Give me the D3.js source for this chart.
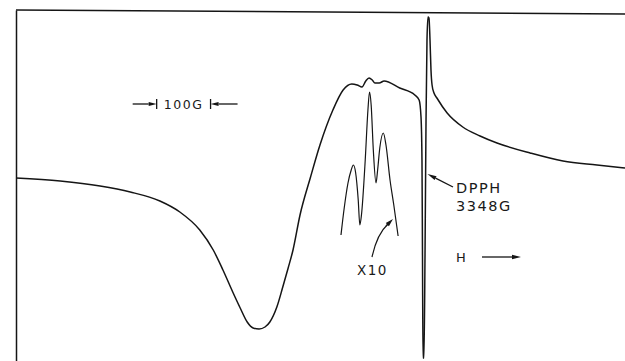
<!DOCTYPE html>
<html>
<head>
<meta charset="utf-8">
<script src="https://cdn.jsdelivr.net/npm/d3@7"></script>
<style>
  body { margin: 0; background: #fff; }
  svg { display: block; }
  text { font-family: "DejaVu Sans", sans-serif; fill: #1a1a1a; letter-spacing: 1.5px; }
</style>
</head>
<body>
<svg></svg>
<script>
const W = 625,
  H = 361;

// field in gauss, signal in arbitrary units (derivative of absorption)
const field = [
  2590, 2672, 2746, 2802, 2857, 2894, 2931, 2956, 2974, 2993, 3006, 3019, 3030,
  3041, 3052, 3061, 3074, 3085, 3095, 3104, 3117, 3136, 3154, 3178, 3197, 3213,
  3223, 3232, 3239, 3245, 3251, 3256, 3264, 3273, 3302, 3330, 3338, 3341.5,
  3343.3, 3344.2, 3345.2, 3347, 3349, 3350.8, 3352.6, 3354.5, 3356.3, 3358.2,
  3360, 3362, 3365.6, 3371, 3390, 3419, 3451, 3482.5, 3544, 3605, 3668, 3720
];
const signal = [
  7, 4, -1, -7, -16, -27, -45, -65, -85, -108, -123, -137, -143,
  -144, -142, -137, -122, -102, -83, -65, -30, 7, 40, 75, 95, 101,
  100, 98, 104, 107, 105, 102, 102, 104, 97, 90, 85, 68,
  25, -65, -173, -173, -65, 65, 145, 168, 167, 145,
  115, 100, 92, 87, 72, 58, 49, 42, 32, 24, 20, 17
];

// hyperfine detail recorded at x10 gain
const insetField = [
  3193, 3199, 3206, 3212, 3216, 3220, 3225, 3228, 3231, 3238, 3243, 3246,
  3249, 3253, 3258, 3261, 3265, 3271.5, 3276.5, 3284, 3291, 3299
];
const insetSignal = [
  -50, -23, 2, 15, 20, 13, -15, -40, -30, 25, 75, 93,
  80, 35, 2, 15, 37, 52, 40, 5, -20, -51
];

const scaleBar = [2851, 2951]; // 100 G
const dpph = 3348;

var svg = d3.select("svg").attr("width", W).attr("height", H);

var x = d3.scaleLinear().domain([2590, 3720]).range([16, 625]);
var y = d3.scaleLinear().domain([-175, 175]).range([360, 10]);

const ink = "#151515";

// frame: left edge and top edge
svg
  .append("g")
  .attr("transform", "translate(16,0)")
  .call(d3.axisLeft(d3.scaleLinear().range([10, H])).tickValues([]).tickSizeOuter(0))
  .select(".domain")
  .attr("stroke", ink)
  .attr("stroke-width", 1.5);

svg
  .append("line")
  .attr("x1", 16)
  .attr("y1", 10)
  .attr("x2", W)
  .attr("y2", 14)
  .attr("stroke", ink)
  .attr("stroke-width", 1.5);

var line = d3
  .line()
  .x(d => x(d[0]))
  .y(d => y(d[1]))
  .curve(d3.curveMonotoneX);

svg
  .append("path")
  .datum(field.map((f, i) => [f, signal[i]]))
  .attr("d", line)
  .attr("fill", "none")
  .attr("stroke", ink)
  .attr("stroke-width", 1.5);

svg
  .append("path")
  .datum(insetField.map((f, i) => [f, insetSignal[i]]))
  .attr("d", line)
  .attr("fill", "none")
  .attr("stroke", ink)
  .attr("stroke-width", 1.2);

//arrow helper: line from (x1,y1) to tip (x2,y2)
function arrow(x1, y1, x2, y2, len, wid) {
  const a = Math.atan2(y2 - y1, x2 - x1),
    bx = x2 - len * Math.cos(a),
    by = y2 - len * Math.sin(a),
    px = wid * Math.sin(a),
    py = -wid * Math.cos(a);
  svg
    .append("line")
    .attr("x1", x1)
    .attr("y1", y1)
    .attr("x2", bx)
    .attr("y2", by)
    .attr("stroke", ink)
    .attr("stroke-width", 1.3);
  svg
    .append("path")
    .attr("d", "M" + x2 + "," + y2 + "L" + (bx + px) + "," + (by + py) + "L" + (bx - px) + "," + (by - py) + "Z")
    .attr("fill", ink);
}

// 100 G scale bar
const sbY = 104,
  x0 = x(scaleBar[0]),
  x1 = x(scaleBar[1]);
[x0, x1].forEach(v =>
  svg
    .append("line")
    .attr("x1", v)
    .attr("x2", v)
    .attr("y1", sbY - 5)
    .attr("y2", sbY + 5)
    .attr("stroke", ink)
    .attr("stroke-width", 1.3)
);
arrow(x0 - 24, sbY, x0, sbY, 8, 2);
arrow(x1 + 27, sbY, x1, sbY, 8, 2);
svg
  .append("text")
  .attr("x", (x0 + x1) / 2)
  .attr("y", sbY + 5)
  .attr("text-anchor", "middle")
  .attr("font-size", "12.5px")
  .text("100G");

// DPPH marker
arrow(453, 187, x(dpph) + 3, 174, 9, 2.2);
svg.append("text").attr("x", 456).attr("y", 193).attr("font-size", "14.5px").text("DPPH");
svg.append("text").attr("x", 456).attr("y", 211).attr("font-size", "14.5px").text("3348G");

// x10 label with curved arrow
svg
  .append("path")
  .attr("d", "M372,257Q377,234 388,224")
  .attr("fill", "none")
  .attr("stroke", ink)
  .attr("stroke-width", 1.2);
arrow(386, 226, 393, 219, 8, 2.2);
svg.append("text").attr("x", 357).attr("y", 275).attr("font-size", "13.5px").text("X10");

// field direction
svg.append("text").attr("x", 456).attr("y", 262).attr("font-size", "13px").text("H");
arrow(482, 257, 521, 257, 9, 2.2);
</script>
</body>
</html>
